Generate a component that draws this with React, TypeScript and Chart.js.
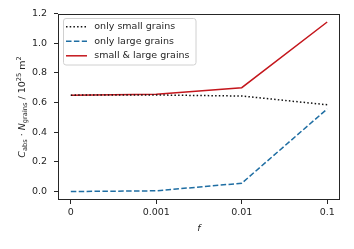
import React, { useEffect, useRef } from "react";
import Chart from "chart.js/auto";

const categories = ["0", "0.001", "0.01", "0.1"];
const seriesNames = ["only small grains", "only large grains", "small & large grains"];
const onlySmall = [0.65, 0.651, 0.644, 0.585];
const onlyLarge = [0.0, 0.005, 0.056, 0.557];
const smallAndLarge = [0.65, 0.656, 0.7, 1.143];
const yTicks = [0, 0.2, 0.4, 0.6, 0.8, 1.0, 1.2];

const FONT = "DejaVu Sans";
const FS = 9.5;
const AXIS_COLOR = "#262626";

const decor = {
  id: "decor",
  afterDraw(chart: any) {
    const { ctx, chartArea: a } = chart;
    ctx.save();
    // frame
    ctx.strokeStyle = AXIS_COLOR;
    ctx.lineWidth = 1;
    ctx.setLineDash([]);
    ctx.strokeRect(Math.round(a.left) + 0.5, Math.round(a.top) + 0.5, Math.round(a.right - a.left) - 1, Math.round(a.bottom - a.top) - 1);

    // legend
    const lx = a.left + 5.5, ly = a.top + 4.5, lw = 132.5, lh = 46.5;
    ctx.beginPath();
    (ctx as any).roundRect(lx, ly, lw, lh, 2.5);
    ctx.fillStyle = "rgba(255,255,255,0.85)";
    ctx.fill();
    ctx.strokeStyle = "#d0d0d0";
    ctx.lineWidth = 1;
    ctx.stroke();
    chart.data.datasets.forEach((ds: any, i: number) => {
      const y = a.top + 12.8 + i * 14.5;
      ctx.beginPath();
      ctx.strokeStyle = ds.borderColor;
      ctx.lineWidth = ds.borderWidth;
      ctx.setLineDash(ds.borderDash || []);
      ctx.moveTo(a.left + 8, y);
      ctx.lineTo(a.left + 29, y);
      ctx.stroke();
      ctx.setLineDash([]);
      ctx.fillStyle = AXIS_COLOR;
      ctx.font = `${FS}px "${FONT}"`;
      ctx.textAlign = "left";
      ctx.textBaseline = "middle";
      ctx.fillText(ds.label, a.left + 36.3, y);
    });

    // x title
    ctx.fillStyle = AXIS_COLOR;
    ctx.font = `italic ${FS}px "${FONT}"`;
    ctx.textAlign = "center";
    ctx.textBaseline = "middle";
    ctx.fillText("f", (a.left + a.right) / 2, 229);

    // y title (rich text)
    const sub = FS * 0.7;
    const segs = [
      { t: "C", f: `italic ${FS}px "${FONT}"`, dy: 0 },
      { t: "abs", f: `${sub}px "${FONT}"`, dy: 2.2 },
      { t: " \u00b7 ", f: `${FS}px "${FONT}"`, dy: 0 },
      { t: "N", f: `italic ${FS}px "${FONT}"`, dy: 0 },
      { t: "grains", f: `${sub}px "${FONT}"`, dy: 2.2 },
      { t: " / 10", f: `${FS}px "${FONT}"`, dy: 0 },
      { t: "25", f: `${sub}px "${FONT}"`, dy: -3.8 },
      { t: " m", f: `${FS}px "${FONT}"`, dy: 0 },
      { t: "2", f: `${sub}px "${FONT}"`, dy: -3.8 },
    ];
    let total = 0;
    const widths = segs.map((s) => {
      ctx.font = s.f;
      const w = ctx.measureText(s.t).width;
      total += w;
      return w;
    });
    ctx.translate(22, (a.top + a.bottom) / 2);
    ctx.rotate(-Math.PI / 2);
    ctx.textAlign = "left";
    ctx.textBaseline = "alphabetic";
    let x = -total / 2;
    segs.forEach((s, i) => {
      ctx.font = s.f;
      ctx.fillText(s.t, x, 3 + s.dy);
      x += widths[i];
    });
    ctx.restore();
  },
};

export default function App() {
  const ref = useRef<HTMLCanvasElement>(null);
  useEffect(() => {
    if (!ref.current) return;
    const mk = (vals: number[]) => vals.map((v, i) => ({ x: i, y: v }));
    const chart = new Chart(ref.current, {
      type: "line",
      data: {
        datasets: [
          { label: seriesNames[0], data: mk(onlySmall), borderColor: "#111111", borderWidth: 1.5, borderDash: [1.5, 2.2], pointRadius: 0, tension: 0 },
          { label: seriesNames[1], data: mk(onlyLarge), borderColor: "#1f6ea3", borderWidth: 1.5, borderDash: [5.5, 2.4], pointRadius: 0, tension: 0 },
          { label: seriesNames[2], data: mk(smallAndLarge), borderColor: "#c4161c", borderWidth: 1.5, pointRadius: 0, tension: 0 },
        ],
      },
      options: {
        animation: false,
        responsive: false,
        devicePixelRatio: 1,
        layout: { padding: { left: 0, top: 14, right: 14, bottom: 0 } },
        plugins: { legend: { display: false }, tooltip: { enabled: false } },
        scales: {
          x: {
            type: "linear",
            min: -0.15,
            max: 3.15,
            afterBuildTicks: (s: any) => { s.ticks = categories.map((_, i) => ({ value: i })); },
            afterFit: (s: any) => { s.height = 49; },
            ticks: {
              callback: (v: any) => categories[v as number],
              font: { family: FONT, size: FS },
              color: AXIS_COLOR,
              padding: 3,
              autoSkip: false,
              maxRotation: 0,
            },
            grid: { display: true, drawOnChartArea: false, drawTicks: true, tickLength: 4, color: AXIS_COLOR },
            border: { display: false },
          },
          y: {
            type: "linear",
            min: -0.057,
            max: 1.197,
            afterBuildTicks: (s: any) => { s.ticks = yTicks.map((v) => ({ value: v })); },
            afterFit: (s: any) => { s.width = 58; },
            ticks: {
              callback: (v: any) => (v as number).toFixed(1),
              font: { family: FONT, size: FS },
              color: AXIS_COLOR,
              padding: 7,
            },
            grid: { display: true, drawOnChartArea: false, drawTicks: true, tickLength: 4, color: AXIS_COLOR },
            border: { display: false },
          },
        },
      },
      plugins: [decor],
    });
    return () => chart.destroy();
  }, []);
  return (
    <div style={{ position: "fixed", left: 0, top: 0, width: 354, height: 249, background: "#fff" }}>
      <canvas ref={ref} width={354} height={249} style={{ width: 354, height: 249, display: "block" }} />
    </div>
  );
}
